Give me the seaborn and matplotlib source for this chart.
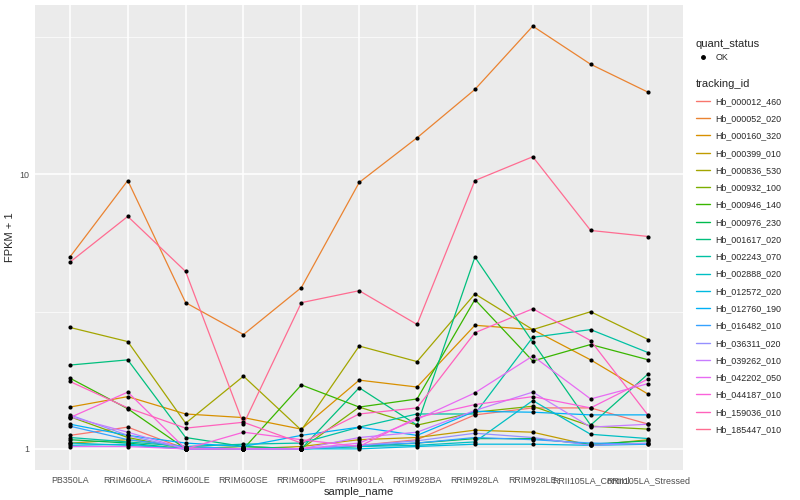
import numpy as np
import pandas as pd
import matplotlib
matplotlib.use("Agg")
import matplotlib.pyplot as plt
from matplotlib.lines import Line2D
import seaborn as sns

# samples on the x axis
samples = ["PB350LA", "RRIM600LA", "RRIM600LE", "RRIM600SE", "RRIM600PE",
           "RRIM901LA", "RRIM928BA", "RRIM928LA", "RRIM928LE",
           "RRII105LA_Control", "RRII105LA_Stressed"]

genes = ["Hb_000012_460", "Hb_000052_020", "Hb_000160_320", "Hb_000399_010",
         "Hb_000836_530", "Hb_000932_100", "Hb_000946_140", "Hb_000976_230",
         "Hb_001617_020", "Hb_002243_070", "Hb_002888_020", "Hb_012572_020",
         "Hb_012760_190", "Hb_016482_010", "Hb_036311_020", "Hb_039262_010",
         "Hb_042202_050", "Hb_044187_010", "Hb_159036_010", "Hb_185447_010"]

# FPKM + 1 (one list per gene, same order as samples)
hb_000012_460 = [1.12, 1.20, 1.00, 1.00, 1.00, 1.03, 1.08, 1.33, 1.41, 1.41, 1.23]
hb_000052_020 = [5.00, 9.50, 3.41, 2.61, 3.87, 9.35, 13.6, 20.4, 34.7, 25.2, 19.9]
hb_000160_320 = [1.42, 1.55, 1.34, 1.30, 1.18, 1.78, 1.68, 2.82, 2.72, 2.11, 1.58]
hb_000399_010 = [1.05, 1.08, 1.02, 1.00, 1.02, 1.08, 1.10, 1.17, 1.15, 1.03, 1.08]
hb_000836_530 = [2.77, 2.46, 1.24, 1.84, 1.17, 2.37, 2.08, 3.67, 2.72, 3.16, 2.50]
hb_000932_100 = [1.31, 1.10, 1.00, 1.02, 1.00, 1.42, 1.22, 1.36, 1.43, 1.21, 1.18]
hb_000946_140 = [1.81, 1.40, 1.00, 1.00, 1.71, 1.42, 1.52, 3.50, 2.09, 2.40, 2.11]
hb_000976_230 = [1.08, 1.05, 1.00, 1.00, 1.00, 1.02, 1.05, 1.09, 1.09, 1.04, 1.07]
hb_001617_020 = [2.02, 2.11, 1.10, 1.02, 1.00, 1.67, 1.22, 5.00, 2.45, 1.22, 1.88]
hb_002243_070 = [1.10, 1.06, 1.02, 1.04, 1.05, 1.20, 1.34, 1.34, 2.55, 2.72, 2.24]
hb_002888_020 = [1.05, 1.03, 1.00, 1.00, 1.00, 1.02, 1.03, 1.06, 1.50, 1.13, 1.09]
hb_012572_020 = [1.03, 1.04, 1.00, 1.00, 1.00, 1.00, 1.02, 1.04, 1.04, 1.03, 1.04]
hb_012760_190 = [1.23, 1.12, 1.05, 1.02, 1.12, 1.20, 1.12, 1.37, 1.36, 1.33, 1.33]
hb_016482_010 = [1.21, 1.08, 1.02, 1.00, 1.00, 1.03, 1.05, 1.10, 1.08, 1.05, 1.04]
hb_036311_020 = [1.33, 1.12, 1.00, 1.00, 1.00, 1.03, 1.07, 1.14, 1.10, 1.03, 1.05]
hb_039262_010 = [1.31, 1.15, 1.00, 1.00, 1.00, 1.10, 1.15, 1.38, 1.61, 1.20, 1.23]
hb_042202_050 = [1.02, 1.02, 1.00, 1.00, 1.00, 1.05, 1.28, 1.60, 2.18, 1.52, 1.73]
hb_044187_010 = [1.30, 1.61, 1.00, 1.15, 1.08, 1.02, 1.30, 1.45, 1.55, 1.41, 1.80]
hb_159036_010 = [1.76, 1.41, 1.19, 1.25, 1.05, 1.34, 1.41, 2.65, 3.24, 2.48, 1.32]
hb_185447_010 = [4.79, 7.03, 4.43, 1.23, 3.41, 3.77, 2.84, 9.50, 11.6, 6.25, 5.94]

values = [hb_000012_460, hb_000052_020, hb_000160_320, hb_000399_010,
          hb_000836_530, hb_000932_100, hb_000946_140, hb_000976_230,
          hb_001617_020, hb_002243_070, hb_002888_020, hb_012572_020,
          hb_012760_190, hb_016482_010, hb_036311_020, hb_039262_010,
          hb_042202_050, hb_044187_010, hb_159036_010, hb_185447_010]

# ggplot2 default hue palette for 20 levels
colors = ["#F8766D", "#EA8331", "#D89000", "#C09B00", "#A3A500", "#7CAE00",
          "#39B600", "#00BB4E", "#00BF7D", "#00C1A3", "#00BFC4", "#00BAE0",
          "#00B0F6", "#35A2FF", "#9590FF", "#C77CFF", "#E76BF3", "#FA62DB",
          "#FF62BC", "#FF6C91"]

rows = []
for g, vals in zip(genes, values):
    for s, v in zip(samples, vals):
        rows.append({"tracking_id": g, "sample_name": s, "fpkm": v, "quant_status": "OK"})
df = pd.DataFrame(rows)

sns.set_theme(style="darkgrid", rc={
    "axes.facecolor": "#EBEBEB",
    "grid.color": "white",
    "axes.edgecolor": "#EBEBEB",
})
plt.rcParams["font.family"] = ["Liberation Sans", "DejaVu Sans"]

fig = plt.figure(figsize=(8, 5), dpi=100)
ax = fig.add_axes([0.044, 0.06, 0.81, 0.93])

pal = dict(zip(genes, colors))
sns.lineplot(data=df, x="sample_name", y="fpkm", hue="tracking_id",
             palette=pal, linewidth=0.9, legend=False, ax=ax, sort=False)
sns.scatterplot(data=df, x="sample_name", y="fpkm", color="black", s=9,
                edgecolor="black", linewidth=0, legend=False, ax=ax, zorder=5)

ax.set_yscale("log")
lo, hi = np.log10(df["fpkm"].min()), np.log10(df["fpkm"].max())
pad = (hi - lo) * 0.05
ax.set_ylim(10 ** (lo - pad), 10 ** (hi + pad))
ax.set_xlim(-0.6, len(samples) - 0.4)
ax.set_yticks([1, 10])
ax.set_yticklabels(["1", "10"])
ax.set_yticks([10 ** 0.5, 10 ** 1.5], minor=True)
ax.grid(True, which="major", color="white", linewidth=1.1)
ax.grid(True, which="minor", axis="y", color="white", linewidth=0.5)
ax.tick_params(axis="both", which="major", length=2.5, width=0.6, color="#333333",
               labelsize=6.4, labelcolor="#4D4D4D", pad=2)
ax.tick_params(axis="y", which="minor", length=0)
ax.yaxis.set_minor_formatter(matplotlib.ticker.NullFormatter())
for sp in ax.spines.values():
    sp.set_visible(False)

ax.set_xlabel("sample_name", fontsize=8, labelpad=1)
ax.set_ylabel("FPKM + 1", fontsize=8, labelpad=3)

# legends, ggplot style
h_ok = [Line2D([], [], marker="o", color="black", linestyle="", markersize=2.5)]
leg1 = fig.legend(h_ok, ["OK"], title="quant_status", loc="upper left",
                  bbox_to_anchor=(0.862, 0.935), frameon=False, fontsize=6.4,
                  title_fontsize=8, alignment="left", handlelength=1.6,
                  handletextpad=0.6, borderpad=0.2)
h_ids = [Line2D([], [], color=c, linewidth=1) for c in colors]
leg2 = fig.legend(h_ids, genes, title="tracking_id", loc="upper left",
                  bbox_to_anchor=(0.862, 0.855), frameon=False, fontsize=6.4,
                  title_fontsize=8, alignment="left", handlelength=1.6,
                  handletextpad=0.6, labelspacing=0.93, borderpad=0.2)

fig.savefig("out.png", dpi=100)
